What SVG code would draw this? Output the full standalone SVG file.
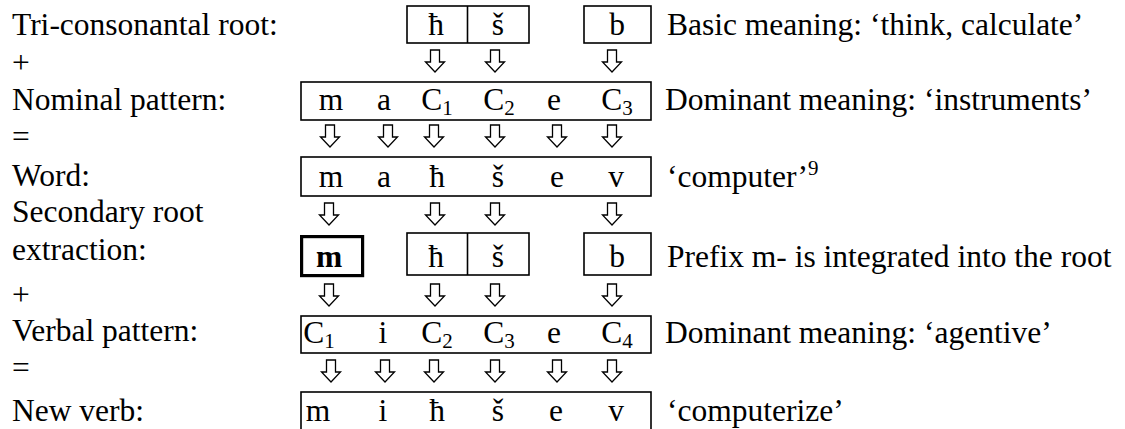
<svg xmlns="http://www.w3.org/2000/svg" width="1125" height="429" viewBox="0 0 1125 429">
<style>
text{font-family:"Liberation Serif","Times New Roman",serif;font-size:31.5px;fill:#000}
.c{text-anchor:middle}
.sub{font-size:21px}
.box{fill:none;stroke:#000;stroke-width:1.6}
.bold{fill:none;stroke:#000;stroke-width:3.2}
.arr{fill:#fff;stroke:#000;stroke-width:1.3;stroke-linejoin:miter}
</style>
<defs>
<polygon id="dn" class="arr" points="-4.5,0 4.5,0 4.5,12 9.5,12 0,22 -9.5,12 -4.5,12"/>
</defs>
<rect width="1125" height="429" fill="#fff"/>

<g id="labels">
<text x="12" y="35">Tri-consonantal root:</text>
<text x="12" y="73">+</text>
<text x="12" y="110">Nominal pattern:</text>
<text x="12" y="147">=</text>
<text x="12" y="186">Word:</text>
<text x="12" y="222">Secondary root</text>
<text x="12" y="260">extraction:</text>
<text x="12" y="305">+</text>
<text x="12" y="341">Verbal pattern:</text>
<text x="12" y="378">=</text>
<text x="12" y="421">New verb:</text>
</g>

<g id="root">
<rect class="box" x="407" y="6" width="122" height="37"/>
<line class="box" x1="467.5" y1="6" x2="467.5" y2="43"/>
<rect class="box" x="584" y="6" width="67" height="37"/>
<text class="c" x="436" y="35">ħ</text>
<text class="c" x="498" y="35">š</text>
<text class="c" x="617" y="35">b</text>
<text x="667" y="35">Basic meaning: ‘think, calculate’</text>
</g>

<g id="nominal">
<rect class="box" x="301" y="82" width="350" height="38"/>
<text class="c" x="331" y="110">m</text>
<text class="c" x="384" y="110">a</text>
<text class="c" x="437" y="110">C<tspan class="sub" dy="5">1</tspan></text>
<text class="c" x="499" y="110">C<tspan class="sub" dy="5">2</tspan></text>
<text class="c" x="554" y="110">e</text>
<text class="c" x="617" y="110">C<tspan class="sub" dy="5">3</tspan></text>
<text x="665" y="110">Dominant meaning: ‘instruments’</text>
</g>

<g id="word">
<rect class="box" x="301" y="157" width="350" height="39"/>
<text class="c" x="331" y="187">m</text>
<text class="c" x="384" y="187">a</text>
<text class="c" x="437" y="187">ħ</text>
<text class="c" x="498" y="187">š</text>
<text class="c" x="557" y="187">e</text>
<text class="c" x="616" y="187">v</text>
<text x="667" y="187">‘computer’<tspan class="sub" dy="-12">9</tspan></text>
</g>

<g id="extraction">
<rect class="bold" x="301.6" y="236.6" width="61" height="39"/>
<rect class="box" x="407" y="233" width="122" height="42"/>
<line class="box" x1="467.5" y1="233" x2="467.5" y2="275"/>
<rect class="box" x="584" y="233" width="67" height="42"/>
<text class="c" x="329" y="267" font-weight="bold">m</text>
<text class="c" x="436" y="267">ħ</text>
<text class="c" x="498" y="267">š</text>
<text class="c" x="617" y="267">b</text>
<text x="667" y="267">Prefix m- is integrated into the root</text>
</g>

<g id="verbal">
<rect class="box" x="301" y="316" width="350" height="37"/>
<text class="c" x="319" y="343">C<tspan class="sub" dy="5">1</tspan></text>
<text class="c" x="383" y="343">i</text>
<text class="c" x="437" y="343">C<tspan class="sub" dy="5">2</tspan></text>
<text class="c" x="499" y="343">C<tspan class="sub" dy="5">3</tspan></text>
<text class="c" x="554" y="343">e</text>
<text class="c" x="617" y="343">C<tspan class="sub" dy="5">4</tspan></text>
<text x="665" y="343">Dominant meaning: ‘agentive’</text>
</g>

<g id="newverb">
<rect class="box" x="301" y="392" width="350" height="50"/>
<text class="c" x="318" y="421">m</text>
<text class="c" x="383" y="421">i</text>
<text class="c" x="437" y="421">ħ</text>
<text class="c" x="498" y="421">š</text>
<text class="c" x="556" y="421">e</text>
<text class="c" x="616" y="421">v</text>
<text x="667" y="421">‘computerize’</text>
</g>

<g id="connectors">
<use href="#dn" x="435" y="50"/>
<use href="#dn" x="495" y="50"/>
<use href="#dn" x="612" y="50"/>

<use href="#dn" x="330" y="125"/>
<use href="#dn" x="388" y="125"/>
<use href="#dn" x="434" y="125"/>
<use href="#dn" x="495" y="125"/>
<use href="#dn" x="557" y="125"/>
<use href="#dn" x="612" y="125"/>

<use href="#dn" x="329" y="203"/>
<use href="#dn" x="435" y="203"/>
<use href="#dn" x="495" y="203"/>
<use href="#dn" x="612" y="203"/>

<use href="#dn" x="329" y="284"/>
<use href="#dn" x="435" y="284"/>
<use href="#dn" x="495" y="284"/>
<use href="#dn" x="612" y="284"/>

<use href="#dn" x="331" y="360"/>
<use href="#dn" x="385" y="360"/>
<use href="#dn" x="434" y="360"/>
<use href="#dn" x="495" y="360"/>
<use href="#dn" x="557" y="360"/>
<use href="#dn" x="612" y="360"/>
</g>
</svg>
